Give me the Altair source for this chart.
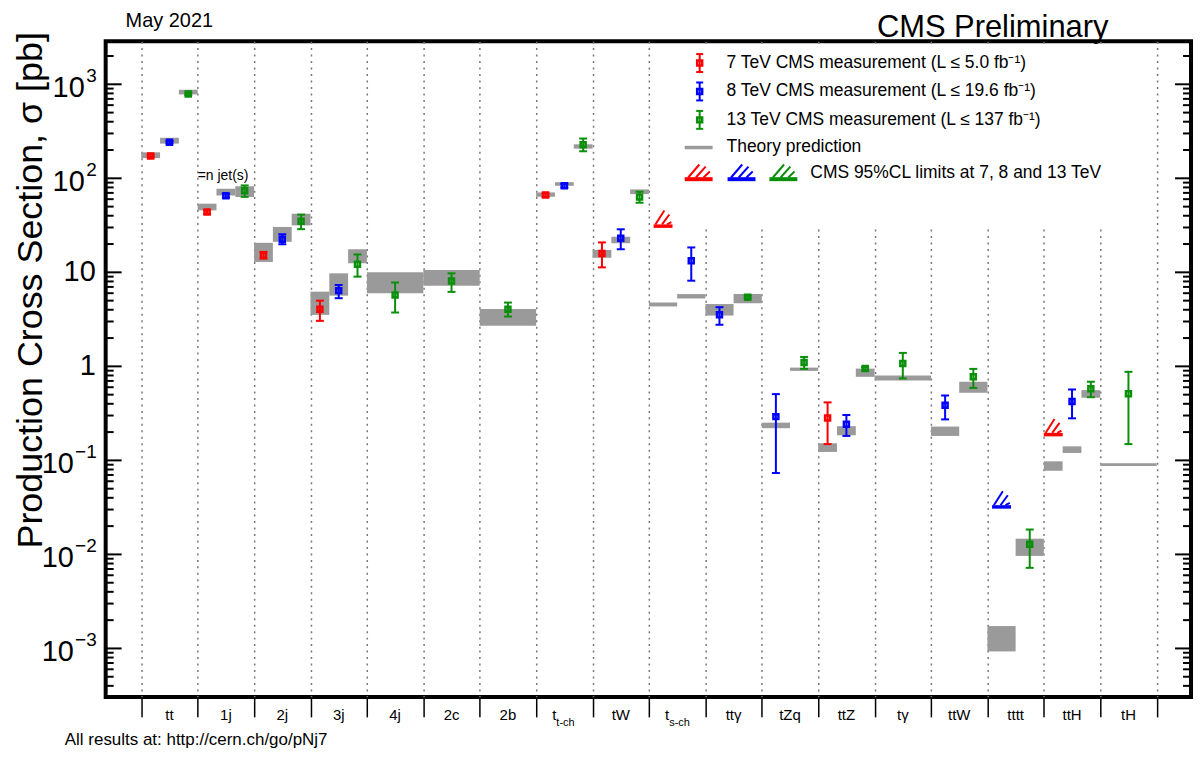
import altair as alt
import pandas as pd

# ---------------- data ----------------
categories = ["tt", "1j", "2j", "3j", "4j", "2c", "2b", "t_t-ch", "tW", "t_s-ch",
              "ttγ", "tZq", "ttZ", "tγ", "ttW", "tttt", "ttH", "tH"]
cat_main = ["tt", "1j", "2j", "3j", "4j", "2c", "2b", "t", "tW", "t",
            "ttγ", "tZq", "ttZ", "tγ", "ttW", "tttt", "ttH", "tH"]
cat_sub = ["", "", "", "", "", "", "", "t-ch", "", "s-ch",
           "", "", "", "", "", "", "", ""]
cat_energies = [["7", "8", "13"], ["7", "8", "13"], ["7", "8", "13"], ["7", "8", "13"],
                ["13"], ["13"], ["13"], ["7", "8", "13"], ["7", "8", "13"], ["7", "8"],
                ["8", "13"], ["8", "13"], ["7", "8", "13"], ["13"], ["8", "13"],
                ["8", "13"], ["7", "8", "13"], ["13"]]

meas_cat = ["tt", "tt", "tt", "1j", "1j", "1j", "2j", "2j", "2j", "3j", "3j", "3j",
            "4j", "2c", "2b", "t_t-ch", "t_t-ch", "t_t-ch", "tW", "tW", "tW", "t_s-ch",
            "ttγ", "ttγ", "tZq", "tZq", "ttZ", "ttZ", "ttZ", "tγ", "ttW", "ttW",
            "tttt", "ttH", "ttH", "tH"]
meas_energy = ["7", "8", "13", "7", "8", "13", "7", "8", "13", "7", "8", "13",
               "13", "13", "13", "7", "8", "13", "7", "8", "13", "8",
               "8", "13", "8", "13", "7", "8", "13", "13", "8", "13",
               "13", "8", "13", "13"]
meas_val = [173, 242, 790, 43.8, 65.3, 73.8, 15.2, 22.5, 34.9, 4.06, 6.39, 12.2,
            5.75, 8.09, 4.06, 66.3, 83.3, 228, 15.9, 23.1, 63.1, 13.3,
            3.53, 5.44, 0.292, 1.10, 0.282, 0.242, 0.947, 1.07, 0.385, 0.774,
            0.0128, 0.424, 0.578, 0.512]
meas_lo = [167, 234, 765, 42.0, 62.6, 63.5, 14.0, 19.9, 28.8, 3.05, 5.31, 9.0,
           3.74, 6.2, 3.39, 63.5, 79.8, 194, 11.3, 17.6, 55.0, 8.15,
           2.77, 5.25, 0.0734, 0.94, 0.149, 0.182, 0.91, 0.743, 0.273, 0.59,
           0.0072, 0.28, 0.47, 0.149]
meas_hi = [179, 250, 815, 45.6, 68.0, 84.0, 16.5, 25.4, 41.1, 5.0, 7.34, 15.5,
           7.8, 9.76, 4.77, 69.2, 86.9, 265, 20.8, 28.7, 72.0, 18.4,
           4.26, 5.64, 0.507, 1.26, 0.414, 0.304, 0.985, 1.39, 0.49, 0.94,
           0.0184, 0.568, 0.686, 0.875]

theory_cat = ["tt", "tt", "tt", "1j", "1j", "1j", "2j", "2j", "2j", "3j", "3j", "3j",
              "4j", "2c", "2b", "t_t-ch", "t_t-ch", "t_t-ch", "tW", "tW", "tW",
              "t_s-ch", "t_s-ch", "ttγ", "ttγ", "tZq", "tZq", "ttZ", "ttZ", "ttZ",
              "tγ", "ttW", "ttW", "tttt", "tttt", "ttH", "ttH", "ttH", "tH"]
theory_energy = ["7", "8", "13", "7", "8", "13", "7", "8", "13", "7", "8", "13",
                 "13", "13", "13", "7", "8", "13", "7", "8", "13",
                 "7", "8", "8", "13", "8", "13", "7", "8", "13",
                 "13", "8", "13", "8", "13", "7", "8", "13", "13"]
theory_lo = [164, 234, 780, 45.6, 65.8, 63.3, 12.9, 21.1, 31.6, 3.53, 5.65, 12.5,
             6.0, 7.2, 2.70, 63.6, 83.2, 207, 14.3, 20.4, 67.9,
             4.34, 5.27, 3.47, 4.69, 0.220, 0.896, 0.123, 0.185, 0.774,
             0.708, 0.182, 0.524, 0.00093, 0.00964, 0.0776, 0.120, 0.464, 0.0873]
theory_hi = [189, 270, 875, 53.7, 77.4, 82.3, 20.6, 30.4, 42.0, 6.23, 9.76, 17.6,
             10.0, 10.6, 4.08, 70.8, 91.0, 230, 17.3, 23.9, 76.2,
             4.78, 5.87, 4.60, 5.89, 0.252, 0.97, 0.152, 0.231, 0.947,
             0.80, 0.229, 0.686, 0.00173, 0.0147, 0.0977, 0.141, 0.559, 0.0933]

limit_cat = ["t_s-ch", "tttt", "ttH"]
limit_energy = ["7", "8", "7"]
limit_val = [31.0, 0.0320, 0.188]

y_tick_values = [0.001, 0.01, 0.1, 1, 10, 100, 1000]
y_tick_base = ["10", "10", "10", "1", "10", "10", "10"]
y_tick_exp = ["−3", "−2", "−1", "", "", "2", "3"]
minor_multipliers = [2, 3, 4, 5, 6, 7, 8, 9]

energies = ["7", "8", "13"]
energy_colors = ["#ff0000", "#0000ff", "#0a8f0a"]
legend_texts = ["7 TeV CMS measurement (L ≤ 5.0 fb⁻¹)",
                "8 TeV CMS measurement (L ≤ 19.6 fb⁻¹)",
                "13 TeV CMS measurement (L ≤ 137 fb⁻¹)"]

# ---------------- styling / layout ----------------
FONT = "Liberation Sans"
THEORY = "#9a9a9a"
W, H = 1089, 658
XDOM = [-1.131, 18.109]
YDOM = [3.05e-4, 2877]
xscale = alt.Scale(domain=XDOM, nice=False, zero=False)
yscale = alt.Scale(type="log", domain=YDOM, nice=False)
cmap = dict(zip(energies, energy_colors))
color_enc = alt.Color("energy:N", scale=alt.Scale(domain=energies, range=energy_colors), legend=None)


def slot(cat, en):
    i = categories.index(cat)
    ens = cat_energies[i]
    n = len(ens)
    k = ens.index(en)
    left = i - 0.5 + k / n
    return left, left + 1.0 / n, left + 0.5 / n


def rows(cats, ens):
    out = [slot(c, e) for c, e in zip(cats, ens)]
    return [o[0] for o in out], [o[1] for o in out], [o[2] for o in out]

mx0, mx1, mxc = rows(meas_cat, meas_energy)
meas_df = pd.DataFrame({"xc": mxc, "val": meas_val, "lo": meas_lo, "hi": meas_hi,
                        "energy": meas_energy})
tx0, tx1, txc = rows(theory_cat, theory_energy)
theory_df = pd.DataFrame({"x0": tx0, "x1": tx1, "lo": theory_lo, "hi": theory_hi})
lx0, lx1, lxc = rows(limit_cat, limit_energy)
limit_df = pd.DataFrame({"xc": lxc, "val": limit_val, "energy": limit_energy})

boundaries = [i - 0.5 for i in range(len(categories) + 1)]
cat_df = pd.DataFrame({"i": list(range(len(categories))), "main": cat_main, "sub": cat_sub})
major_df = pd.DataFrame({"v": y_tick_values, "b": y_tick_base, "e": y_tick_exp})
minor_vals = [m * 10.0 ** k for k in range(-4, 4) for m in minor_multipliers]
minor_df = pd.DataFrame({"v": [v for v in minor_vals if YDOM[0] <= v <= YDOM[1]]})

HATCH = "M-0.77,-0.17L0.13,-1.57M-0.1,-0.17L0.63,-1.17M0.4,-0.17L0.83,-0.4"
HATCH_LEG = "M-0.75,-0.12L0.05,-1.05M-0.2,-0.12L0.5,-0.9M0.35,-0.12L0.8,-0.55"

one = pd.DataFrame({"a": [0]})
xaxis = alt.Axis(values=boundaries, grid=True, gridDash=[2, 4.5], gridColor="#777777",
                 gridWidth=1.5, labels=False, domain=False, ticks=True, tickSize=20,
                 tickColor="black", tickWidth=1.5, title=None)
X = lambda f: alt.X(f, scale=xscale, axis=xaxis)
Y = lambda f: alt.Y(f, scale=yscale, axis=None)

layers = []
# theory predictions (boxes)
layers.append(alt.Chart(theory_df).mark_rect(color=THEORY).encode(
    x=X("x0:Q"), x2="x1:Q", y=Y("lo:Q"), y2="hi:Q"))
# legend white background box (hides the grid there)
layers.append(alt.Chart(one).mark_rect(color="white").encode(
    x=alt.value(556), x2=alt.value(1044), y=alt.value(3), y2=alt.value(188)))

# error bars, caps, markers
layers.append(alt.Chart(meas_df).mark_rule(strokeWidth=2).encode(
    x=X("xc:Q"), y=Y("lo:Q"), y2="hi:Q", color=color_enc))
for f in ["lo", "hi"]:
    layers.append(alt.Chart(meas_df).mark_point(shape="stroke", size=64, strokeWidth=2,
                                                 filled=False, opacity=1).encode(
        x=X("xc:Q"), y=Y(f + ":Q"), color=color_enc))
layers.append(alt.Chart(meas_df).mark_point(shape="square", size=25, strokeWidth=2.5,
                                             filled=False, opacity=1).encode(
    x=X("xc:Q"), y=Y("val:Q"), color=color_enc))

# limits
layers.append(alt.Chart(limit_df).mark_point(shape="stroke", size=361, strokeWidth=3.5,
                                              filled=False, opacity=1).encode(
    x=X("xc:Q"), y=Y("val:Q"), color=color_enc))
layers.append(alt.Chart(limit_df).mark_point(shape=HATCH, size=400, strokeWidth=2,
                                              filled=False, opacity=1).encode(
    x=X("xc:Q"), y=Y("val:Q"), color=color_enc))

# inner y ticks (left and right)
for x0, x1, df in [(0, 16, major_df), (0, 8, minor_df), (W - 16, W, major_df), (W - 8, W, minor_df)]:
    layers.append(alt.Chart(df).mark_rule(color="black", strokeWidth=2).encode(
        x=alt.value(x0), x2=alt.value(x1), y=Y("v:Q")))

# y tick labels: base + superscript exponent
def ylab(filt, field, dx, dy, size):
    return alt.Chart(major_df).transform_filter(filt).mark_text(
        align="right", baseline="middle", fontSize=size, font=FONT, color="black",
        dx=dx, dy=dy).encode(x=alt.value(0), y=Y("v:Q"), text=field + ":N")

layers.append(ylab("datum.e === ''", "b", -10, 0, 29))
layers.append(ylab("datum.e !== '' && datum.v > 10", "b", -21, 4, 29))
layers.append(ylab("datum.e !== '' && datum.v > 10", "e", -9, -8, 19))
layers.append(ylab("datum.e !== '' && datum.v < 1", "b", -32, 4, 29))
layers.append(ylab("datum.e !== '' && datum.v < 1", "e", -9, -8, 19))

# x category labels
layers.append(alt.Chart(cat_df).transform_filter("datum.sub === ''").mark_text(
    align="center", baseline="alphabetic", fontSize=15, font=FONT, color="black").encode(
    x=X("i:Q"), y=alt.value(H + 23), text="main:N"))
layers.append(alt.Chart(cat_df).transform_filter("datum.sub !== ''").mark_text(
    align="right", baseline="alphabetic", fontSize=15, font=FONT, color="black", dx=-8).encode(
    x=X("i:Q"), y=alt.value(H + 23), text="main:N"))
layers.append(alt.Chart(cat_df).transform_filter("datum.sub !== ''").mark_text(
    align="left", baseline="alphabetic", fontSize=11, font=FONT, color="black", dx=-8).encode(
    x=X("i:Q"), y=alt.value(H + 29), text="sub:N"))

# annotation "=n jet(s)"
layers.append(alt.Chart(pd.DataFrame({"x": [0.5], "y": [107], "t": ["=n jet(s)"]})).mark_text(
    align="left", baseline="middle", fontSize=14, font=FONT, color="black").encode(
    x=X("x:Q"), y=Y("y:Q"), text="t:N"))

# titles / axis title / footer
def label(txt, x, y, size, align="left", baseline="alphabetic", angle=0, color="black"):
    return alt.Chart(one).mark_text(align=align, baseline=baseline, fontSize=size, font=FONT,
                                    angle=angle, color=color).encode(
        x=alt.value(x), y=alt.value(y), text=alt.value(txt))

layers.append(label("May 2021", 20, -14, 20))
layers.append(label("CMS Preliminary", 890, -4, 31, align="center"))
layers.append(label("Production Cross Section,  σ [pb]", -75, 250, 36, align="center",
                    baseline="middle", angle=270))
layers.append(label("All results at: http://cern.ch/go/pNj7", -41, H + 48, 17))

# legend
for k, (en, txt) in enumerate(zip(energies, legend_texts)):
    ly = 22 + k * 28.5
    c = cmap[en]
    b = alt.Chart(one)
    layers.append(b.mark_rule(color=c, strokeWidth=2).encode(
        x=alt.value(596), y=alt.value(ly - 9), y2=alt.value(ly + 9)))
    for dy in (-9, 9):
        layers.append(b.mark_point(shape="stroke", size=49, strokeWidth=2, color=c,
                                   filled=False, opacity=1).encode(
            x=alt.value(596), y=alt.value(ly + dy)))
    layers.append(b.mark_point(shape="square", size=25, strokeWidth=2.5, color=c,
                               filled=False, opacity=1).encode(
        x=alt.value(596), y=alt.value(ly)))
    layers.append(label(txt, 623, ly, 17.5, baseline="middle"))

layers.append(alt.Chart(one).mark_rect(color=THEORY).encode(
    x=alt.value(581), x2=alt.value(609), y=alt.value(105), y2=alt.value(108.5)))
layers.append(label("Theory prediction", 623, 106, 17.5, baseline="middle"))
for en, lx in zip(energies, [595, 638, 680]):
    c = cmap[en]
    layers.append(alt.Chart(one).mark_point(shape="stroke", size=784, strokeWidth=4, color=c,
                                            filled=False, opacity=1).encode(
        x=alt.value(lx), y=alt.value(138.5)))
    layers.append(alt.Chart(one).mark_point(shape=HATCH_LEG, size=784, strokeWidth=2, color=c,
                                            filled=False, opacity=1).encode(
        x=alt.value(lx), y=alt.value(138.5)))
layers.append(label("CMS 95%CL limits at 7, 8 and 13 TeV", 707, 132, 17.5, baseline="middle"))

chart = alt.layer(*layers).properties(
    width=W, height=H,
    padding={"left": 98, "top": 32, "right": 2, "bottom": 52},
    autosize=alt.AutoSizeParams(type="none"),
    background="white",
).configure(font=FONT).configure_view(stroke="black", strokeWidth=4)

chart.save("out.html", embed_options={"renderer": "svg", "actions": False})
